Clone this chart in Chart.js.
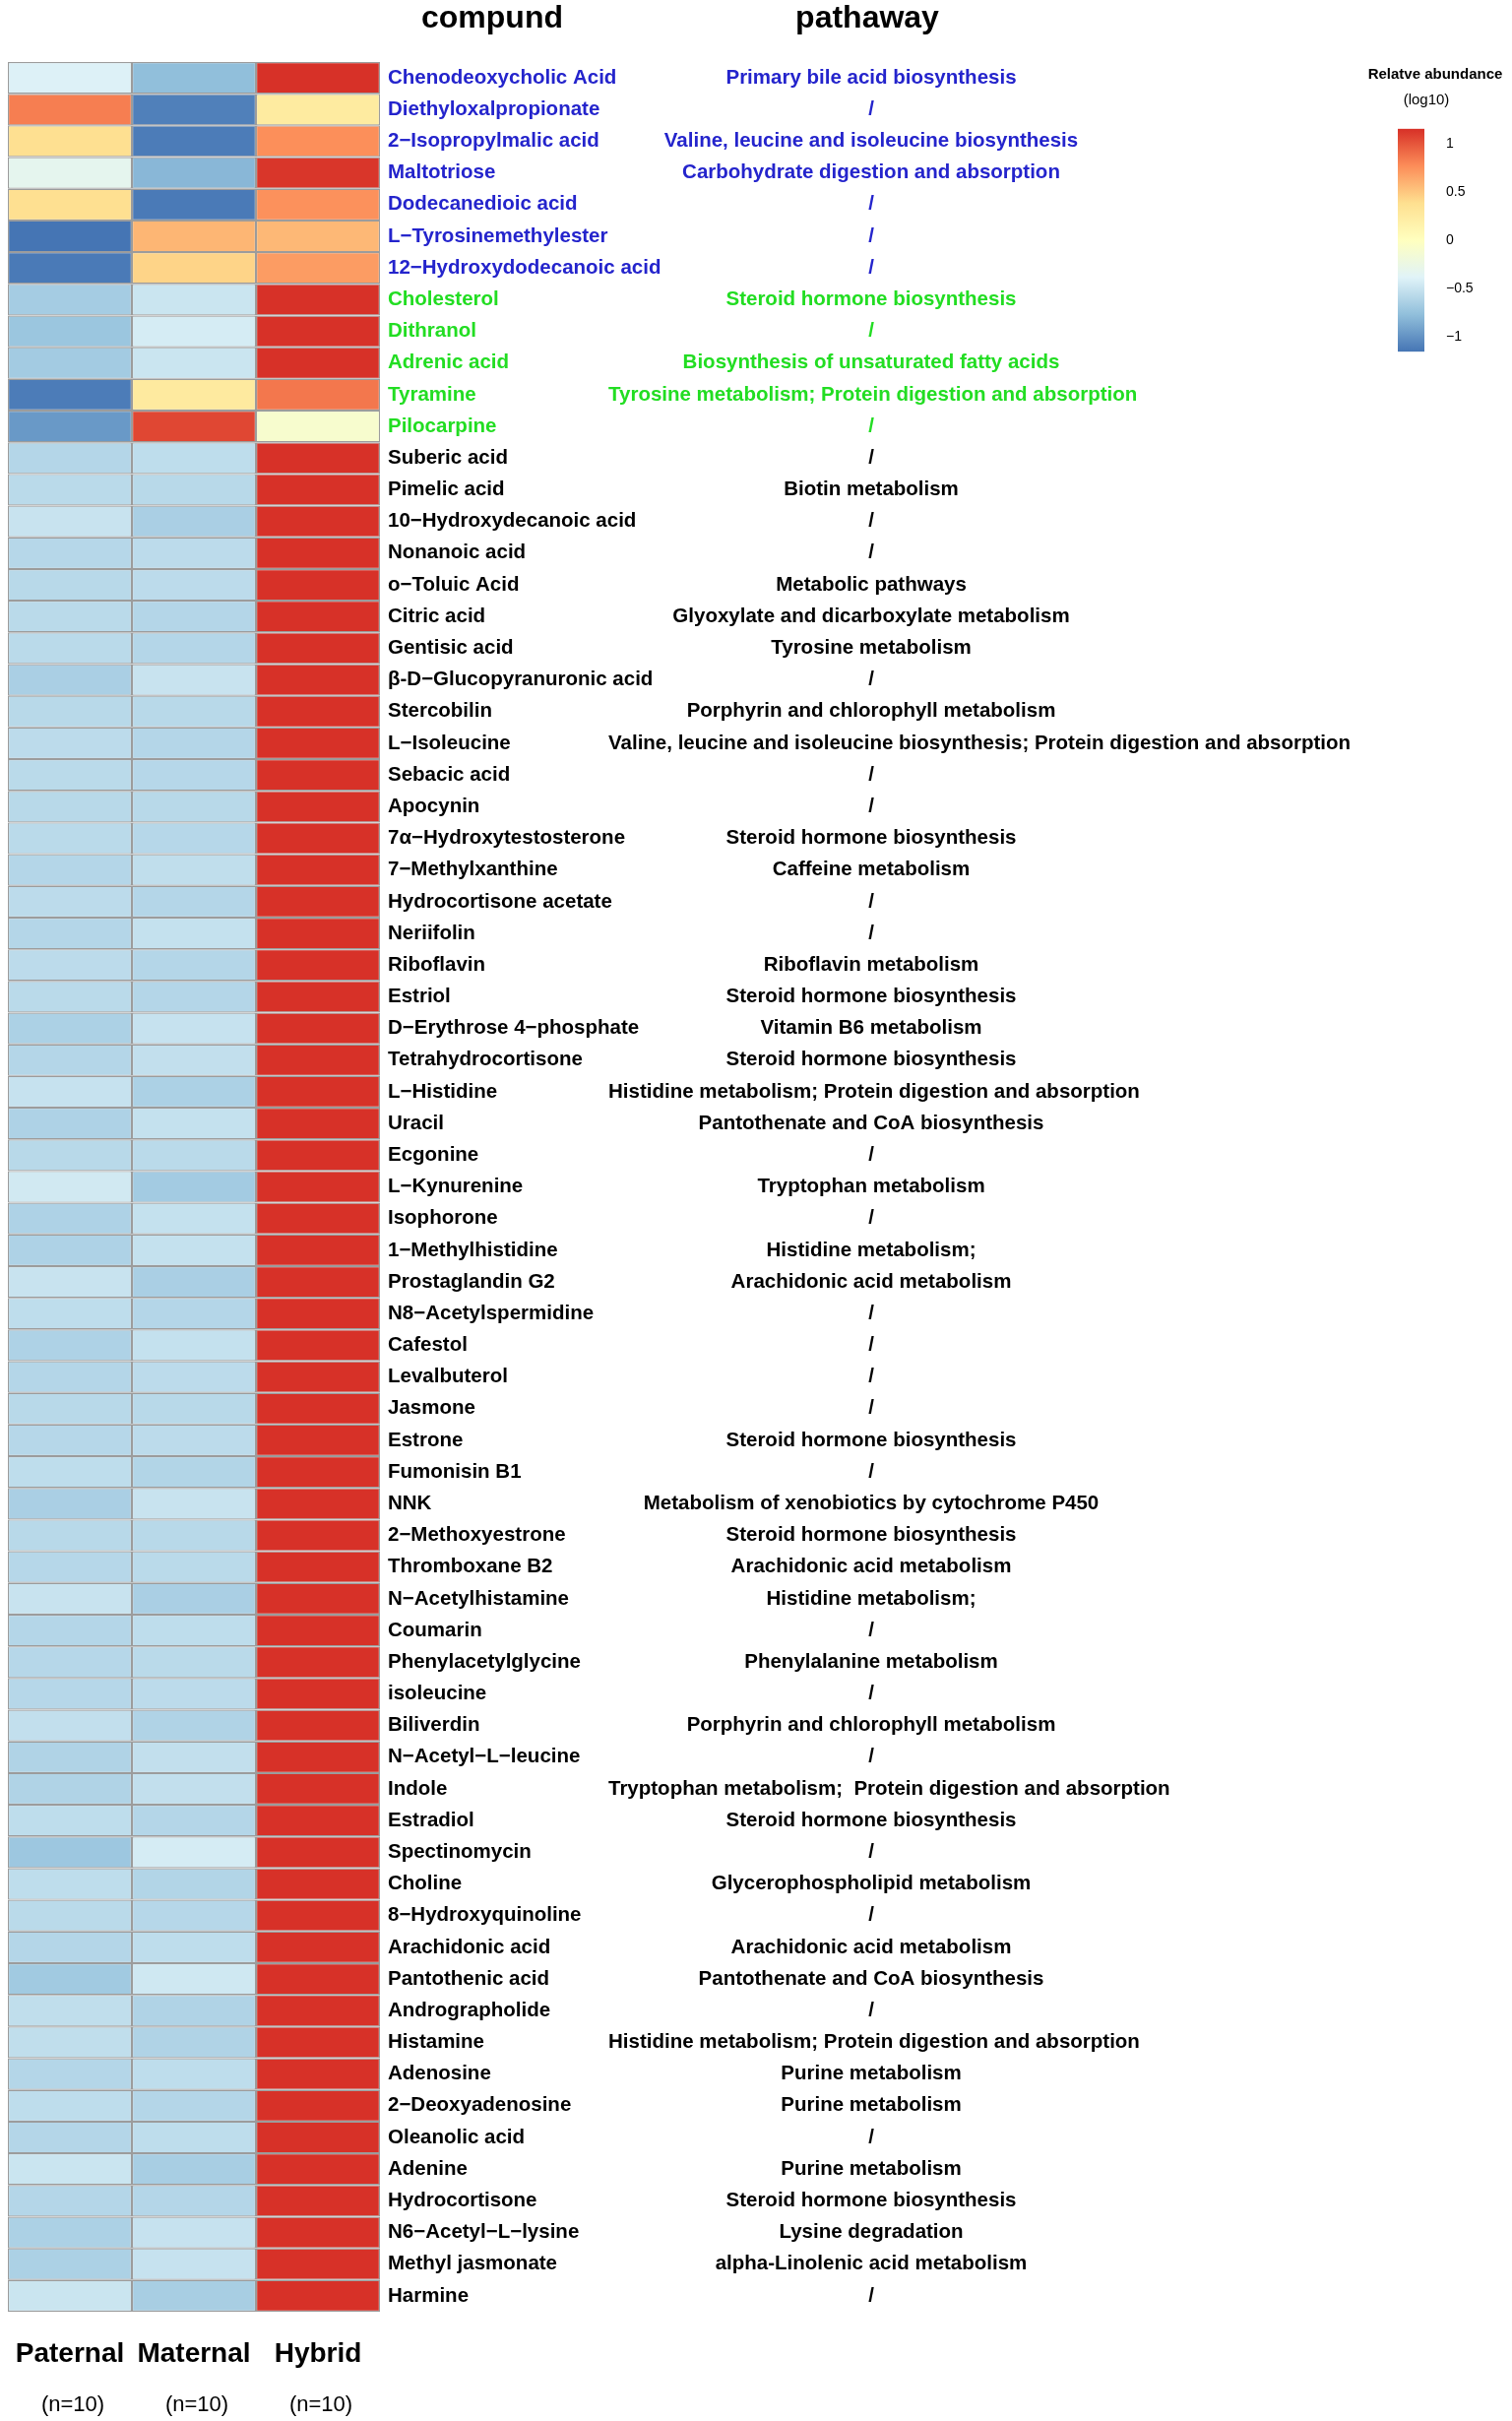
<!DOCTYPE html>
<html><head><meta charset="utf-8">
<script src="https://cdn.jsdelivr.net/npm/chart.js@4.4.1/dist/chart.umd.min.js"></script>
<style>html,body{margin:0;padding:0;background:#fff}canvas{display:block}</style>
</head><body>
<canvas id="c" width="1536" height="2459"></canvas>
<script>
// ---------------- DATA ----------------
const compounds = [
 "Chenodeoxycholic Acid","Diethyloxalpropionate","2\u2212Isopropylmalic acid","Maltotriose","Dodecanedioic acid",
 "L\u2212Tyrosinemethylester","12\u2212Hydroxydodecanoic acid","Cholesterol","Dithranol","Adrenic acid","Tyramine","Pilocarpine",
 "Suberic acid","Pimelic acid","10\u2212Hydroxydecanoic acid","Nonanoic acid","o\u2212Toluic Acid","Citric acid","Gentisic acid",
 "\u03b2-D\u2212Glucopyranuronic acid","Stercobilin","L\u2212Isoleucine","Sebacic acid","Apocynin","7\u03b1\u2212Hydroxytestosterone",
 "7\u2212Methylxanthine","Hydrocortisone acetate","Neriifolin","Riboflavin","Estriol","D\u2212Erythrose 4\u2212phosphate",
 "Tetrahydrocortisone","L\u2212Histidine","Uracil","Ecgonine","L\u2212Kynurenine","Isophorone","1\u2212Methylhistidine",
 "Prostaglandin G2","N8\u2212Acetylspermidine","Cafestol","Levalbuterol","Jasmone","Estrone","Fumonisin B1","NNK",
 "2\u2212Methoxyestrone","Thromboxane B2","N\u2212Acetylhistamine","Coumarin","Phenylacetylglycine","isoleucine","Biliverdin",
 "N\u2212Acetyl\u2212L\u2212leucine","Indole","Estradiol","Spectinomycin","Choline","8\u2212Hydroxyquinoline","Arachidonic acid",
 "Pantothenic acid","Andrographolide","Histamine","Adenosine","2\u2212Deoxyadenosine","Oleanolic acid","Adenine",
 "Hydrocortisone","N6\u2212Acetyl\u2212L\u2212lysine","Methyl jasmonate","Harmine"
];
const pathways = [
 "Primary bile acid biosynthesis","/","Valine, leucine and isoleucine biosynthesis","Carbohydrate digestion and absorption","/",
 "/","/","Steroid hormone biosynthesis","/","Biosynthesis of unsaturated fatty acids","Tyrosine metabolism; Protein digestion and absorption","/",
 "/","Biotin metabolism","/","/","Metabolic pathways","Glyoxylate and dicarboxylate metabolism","Tyrosine metabolism",
 "/","Porphyrin and chlorophyll metabolism","Valine, leucine and isoleucine biosynthesis; Protein digestion and absorption","/","/","Steroid hormone biosynthesis",
 "Caffeine metabolism","/","/","Riboflavin metabolism","Steroid hormone biosynthesis","Vitamin B6 metabolism",
 "Steroid hormone biosynthesis","Histidine metabolism; Protein digestion and absorption","Pantothenate and CoA biosynthesis","/","Tryptophan metabolism","/","Histidine metabolism;",
 "Arachidonic acid metabolism","/","/","/","/","Steroid hormone biosynthesis","/","Metabolism of xenobiotics by cytochrome P450",
 "Steroid hormone biosynthesis","Arachidonic acid metabolism","Histidine metabolism;","/","Phenylalanine metabolism","/","Porphyrin and chlorophyll metabolism",
 "/","Tryptophan metabolism;  Protein digestion and absorption","Steroid hormone biosynthesis","/","Glycerophospholipid metabolism","/","Arachidonic acid metabolism",
 "Pantothenate and CoA biosynthesis","/","Histidine metabolism; Protein digestion and absorption","Purine metabolism","Purine metabolism","/","Purine metabolism",
 "Steroid hormone biosynthesis","Lysine degradation","alpha-Linolenic acid metabolism","/"
];
const groups = ["Paternal","Maternal","Hybrid"];
const groupSizes = ["(n=10)","(n=10)","(n=10)"];
const paternal = [
 -0.40, 0.83, 0.38,-0.32, 0.38,-1.155,-1.13,-0.67,-0.72,-0.68,-1.12,-0.97,
 -0.60,-0.57,-0.50,-0.59,-0.58,-0.57,-0.57,-0.65,-0.58,-0.56,-0.57,-0.58,-0.57,
 -0.60,-0.56,-0.60,-0.56,-0.57,-0.64,-0.60,-0.51,-0.63,-0.58,-0.46,-0.63,-0.63,
 -0.50,-0.55,-0.63,-0.60,-0.58,-0.59,-0.55,-0.65,-0.58,-0.59,-0.50,-0.60,-0.59,
 -0.59,-0.53,-0.62,-0.62,-0.55,-0.71,-0.55,-0.57,-0.60,-0.69,-0.54,-0.54,-0.60,
 -0.55,-0.60,-0.49,-0.60,-0.64,-0.64,-0.49
];
const maternal = [
 -0.77,-1.10,-1.12,-0.81,-1.13, 0.58, 0.44,-0.49,-0.44,-0.49, 0.26, 1.06,
 -0.55,-0.58,-0.65,-0.56,-0.56,-0.60,-0.60,-0.50,-0.58,-0.60,-0.59,-0.58,-0.59,
 -0.54,-0.60,-0.52,-0.60,-0.60,-0.51,-0.53,-0.64,-0.52,-0.57,-0.68,-0.52,-0.52,
 -0.65,-0.60,-0.52,-0.56,-0.58,-0.56,-0.61,-0.50,-0.58,-0.57,-0.65,-0.55,-0.57,
 -0.56,-0.62,-0.53,-0.53,-0.60,-0.44,-0.61,-0.59,-0.55,-0.47,-0.62,-0.62,-0.55,
 -0.60,-0.55,-0.66,-0.60,-0.51,-0.51,-0.66
];
const hybrid = [
  1.15, 0.25, 0.76, 1.13, 0.75, 0.57, 0.70, 1.15, 1.15, 1.15, 0.86,-0.10,
  1.15, 1.15, 1.15, 1.15, 1.15, 1.15, 1.15, 1.15, 1.15, 1.15, 1.15, 1.15, 1.15,
  1.15, 1.15, 1.15, 1.15, 1.15, 1.15, 1.15, 1.15, 1.15, 1.15, 1.15, 1.15, 1.15,
  1.15, 1.15, 1.15, 1.15, 1.15, 1.15, 1.15, 1.15, 1.15, 1.15, 1.15, 1.15, 1.15,
  1.15, 1.15, 1.15, 1.15, 1.15, 1.15, 1.15, 1.15, 1.15, 1.15, 1.15, 1.15, 1.15,
  1.15, 1.15, 1.15, 1.15, 1.15, 1.15, 1.15
];
const legendTicks = [1, 0.5, 0, -0.5, -1];
const legendTitle = ["Relatve abundance","(log10)"];
const titles = ["compund","pathaway"];

// ---------------- STYLE ----------------
const FONT = "'Liberation Sans', Arial, Helvetica, sans-serif";
const PALETTE = ["#4575B4","#91BFDB","#E0F3F8","#FFFFBF","#FEE090","#FC8D59","#D73027"];
const VMIN = -1.1547, VMAX = 1.1547;
const BLUE = "#2424CC", GREEN = "#22DD22", BLACK = "#000000";
const BLUE_ROWS = 7, GREEN_ROWS = 5;
const W = 1536, H = 2459;
const HEAT_LEFT = 8, HEAT_RIGHT = 386, HEAT_TOP = 63, HEAT_BOTTOM = 2348;
const PATH_X = 885, PATH_MIN_LEFT = 618;

function hex2rgb(h){return [parseInt(h.slice(1,3),16),parseInt(h.slice(3,5),16),parseInt(h.slice(5,7),16)];}
const PAL_RGB = PALETTE.map(hex2rgb);
function colorFor(v){
  let t = (v - VMIN) / (VMAX - VMIN);
  t = Math.max(0, Math.min(1, t));
  const seg = t * (PAL_RGB.length - 1);
  const i = Math.min(PAL_RGB.length - 2, Math.floor(seg));
  const f = seg - i;
  const a = PAL_RGB[i], b = PAL_RGB[i+1];
  return `rgb(${Math.round(a[0]+(b[0]-a[0])*f)},${Math.round(a[1]+(b[1]-a[1])*f)},${Math.round(a[2]+(b[2]-a[2])*f)})`;
}
function rowColor(i){ return i < BLUE_ROWS ? BLUE : (i < BLUE_ROWS + GREEN_ROWS ? GREEN : BLACK); }

const series = [paternal, maternal, hybrid];
const datasets = series.map((vals, col) => ({
  label: groups[col],
  data: vals.map(() => [col, col + 1]),
  backgroundColor: ctx => colorFor(vals[ctx.dataIndex]),
  borderColor: "#9C9C9C",
  borderWidth: 1.2,
  borderSkipped: false,
  grouped: false,
  barPercentage: 1,
  categoryPercentage: 1,
  inflateAmount: 0
}));

const overlay = {
  id: "overlay",
  afterDraw(chart){
    const ctx = chart.ctx;
    const y = chart.scales.y, x = chart.scales.x;
    ctx.save();
    // titles
    ctx.fillStyle = "#000";
    ctx.font = `bold 32px ${FONT}`;
    ctx.textAlign = "center"; ctx.textBaseline = "middle";
    ctx.fillText(titles[0], 500, 19);
    ctx.fillText(titles[1], 881, 19);
    // pathways
    ctx.font = `bold 20.5px ${FONT}`;
    pathways.forEach((p, i) => {
      const w = ctx.measureText(p).width;
      const cx = Math.max(PATH_X, PATH_MIN_LEFT + w / 2);
      ctx.fillStyle = rowColor(i);
      ctx.fillText(p, cx, y.getPixelForValue(i));
    });
    // group sizes
    ctx.fillStyle = "#000";
    ctx.font = `22px ${FONT}`;
    groupSizes.forEach((s, i) => ctx.fillText(s, x.getPixelForValue(i + 0.5) + 3, 2443));
    // legend colour bar
    const lx = 1420, lw = 27;
    const zeroY = 244, perUnit = 98;
    const top = zeroY - VMAX * perUnit, bot = zeroY - VMIN * perUnit;
    const g = ctx.createLinearGradient(0, bot, 0, top);
    PALETTE.forEach((c, i) => g.addColorStop(i / (PALETTE.length - 1), c));
    ctx.fillStyle = g;
    ctx.fillRect(lx, top, lw, bot - top);
    ctx.fillStyle = "#000";
    ctx.font = `14px ${FONT}`;
    ctx.textAlign = "left";
    legendTicks.forEach(t => ctx.fillText(String(t).replace("-", "\u2212"), 1469, zeroY - t * perUnit));
    ctx.textAlign = "center";
    ctx.font = `bold 15px ${FONT}`;
    ctx.fillText(legendTitle[0], 1458, 76);
    ctx.font = `15px ${FONT}`;
    ctx.fillText(legendTitle[1], 1449, 102);
    ctx.restore();
  }
};

new Chart(document.getElementById("c"), {
  type: "bar",
  data: { labels: compounds, datasets },
  options: {
    indexAxis: "y",
    responsive: false,
    animation: false,
    devicePixelRatio: 1,
    layout: { padding: { left: HEAT_LEFT, top: HEAT_TOP, right: 0, bottom: 0 } },
    plugins: { legend: { display: false }, tooltip: { enabled: false } },
    scales: {
      x: {
        type: "linear", min: 0, max: 3, position: "bottom",
        grid: { display: false, drawTicks: false }, border: { display: false },
        afterBuildTicks: s => { s.ticks = groups.map((g, i) => ({ value: i + 0.5 })); },
        afterFit: s => { s.height = H - HEAT_BOTTOM; s.paddingLeft = 0; s.paddingRight = 0; },
        ticks: {
          autoSkip: false, maxRotation: 0, padding: 26, color: "#000",
          font: { family: FONT, size: 28, weight: "bold" },
          callback: (v, i) => groups[i]
        }
      },
      y: {
        type: "category", position: "right", offset: true,
        grid: { display: false, drawTicks: false }, border: { display: false },
        afterFit: s => { s.width = W - HEAT_RIGHT; s.paddingTop = 0; s.paddingBottom = 0; },
        ticks: {
          autoSkip: false, padding: 8, crossAlign: "near",
          color: ctx => rowColor(ctx.index),
          font: { family: FONT, size: 20.5, weight: "bold" }
        }
      }
    }
  },
  plugins: [overlay]
});
</script>
</body></html>
